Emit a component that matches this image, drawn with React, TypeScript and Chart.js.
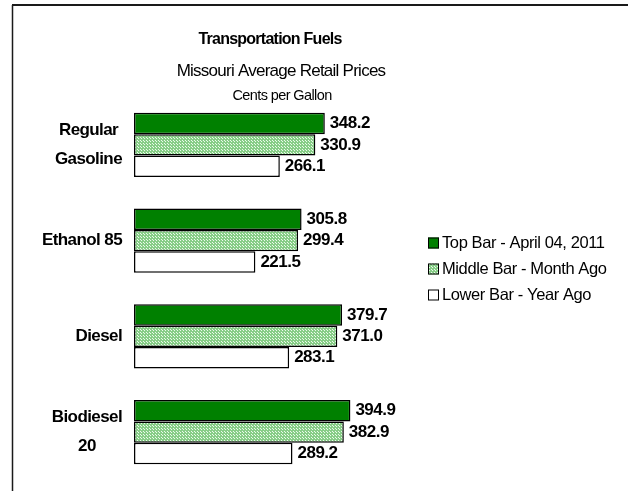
import React, { useEffect, useRef } from "react";
import { Chart, registerables } from "chart.js";

Chart.register(...registerables);

const categories: string[][] = [["Regular", "Gasoline"], ["Ethanol 85"], ["Diesel"], ["Biodiesel", "20"]];
const seriesNames = ["Top Bar - April 04, 2011", "Middle Bar - Month Ago", "Lower Bar - Year Ago"];
const topBar = [348.2, 305.8, 379.7, 394.9];
const middleBar = [330.9, 299.4, 371.0, 382.9];
const lowerBar = [266.1, 221.5, 283.1, 289.2];
const titleLines = ["Transportation Fuels", "Missouri Average Retail Prices", "Cents per Gallon"];

const FONT = "'Liberation Sans', Arial, sans-serif";

function makePattern(): CanvasPattern | string {
  const c = document.createElement("canvas");
  c.width = 3;
  c.height = 3;
  const g = c.getContext("2d");
  if (!g) return "#a8d8a8";
  g.fillStyle = "rgb(135,205,135)";
  g.fillRect(0, 0, 3, 3);
  g.fillStyle = "rgb(235,250,235)";
  g.fillRect(0, 0, 1, 1);
  g.fillRect(2, 2, 1, 1);
  const p = g.createPattern(c, "repeat");
  return p || "#a8d8a8";
}

function setSpacing(ctx: CanvasRenderingContext2D, px: number) {
  (ctx as any).letterSpacing = `${px}px`;
}

const decorPlugin = {
  id: "decor",
  beforeDraw(chart: any) {
    const ctx = chart.ctx as CanvasRenderingContext2D;
    ctx.save();
    ctx.fillStyle = "#ffffff";
    ctx.fillRect(0, 0, chart.width, chart.height);
    ctx.strokeStyle = "#1a1a1a";
    ctx.lineWidth = 2;
    ctx.beginPath();
    ctx.moveTo(12, 5);
    ctx.lineTo(chart.width, 5);
    ctx.stroke();
    ctx.lineWidth = 1.5;
    ctx.beginPath();
    ctx.moveTo(12.5, 5);
    ctx.lineTo(12.5, chart.height);
    ctx.stroke();
    ctx.restore();
  },
  afterDraw(chart: any) {
    const ctx = chart.ctx as CanvasRenderingContext2D;
    ctx.save();
    ctx.fillStyle = "#000";
    ctx.textBaseline = "middle";
    // titles
    ctx.textAlign = "center";
    ctx.font = `bold 16px ${FONT}`;
    setSpacing(ctx, -0.75);
    ctx.fillText(titleLines[0], 270, 40);
    ctx.font = `17px ${FONT}`;
    setSpacing(ctx, -0.75);
    ctx.fillText(titleLines[1], 281, 71);
    ctx.font = `14.5px ${FONT}`;
    setSpacing(ctx, -0.6);
    ctx.fillText(titleLines[2], 282, 96);

    // category labels
    const yScale = chart.scales.y;
    ctx.font = `bold 17px ${FONT}`;
    setSpacing(ctx, -0.6);
    const lineH = 29;
    categories.forEach((lines, i) => {
      const cy = yScale.getPixelForValue(i);
      const w = Math.max(...lines.map((l) => ctx.measureText(l).width));
      const right = 122;
      const cx = right - w / 2;
      const start = cy - ((lines.length - 1) * lineH) / 2;
      ctx.textAlign = "center";
      lines.forEach((l, k) => ctx.fillText(l, cx, start + k * lineH));
    });

    // value labels
    ctx.textAlign = "left";
    ctx.font = `bold 17px ${FONT}`;
    setSpacing(ctx, -0.5);
    chart.data.datasets.forEach((ds: any, di: number) => {
      const meta = chart.getDatasetMeta(di);
      meta.data.forEach((bar: any, j: number) => {
        const v = ds.data[j] as number;
        ctx.fillText(v.toFixed(1), bar.x + 5, bar.y);
      });
    });

    // legend
    ctx.font = `16.5px ${FONT}`;
    setSpacing(ctx, -0.4);
    const lx = 428;
    const ly0 = 243;
    const gap = 26;
    chart.data.datasets.forEach((ds: any, di: number) => {
      const y = ly0 + di * gap;
      ctx.fillStyle = ds.backgroundColor;
      ctx.fillRect(lx, y - 5.5, 11, 11);
      ctx.strokeStyle = "#000";
      ctx.lineWidth = 1;
      ctx.strokeRect(lx + 0.5, y - 5.5 + 0.5, 10, 10);
      ctx.fillStyle = "#000";
      ctx.fillText(ds.label, lx + 14, y);
    });
    ctx.restore();
  },
};

export default function App() {
  const ref = useRef<HTMLCanvasElement | null>(null);
  useEffect(() => {
    document.body.style.margin = "0";
    const canvas = ref.current;
    if (!canvas) return;
    const chart = new Chart(canvas, {
      type: "bar",
      data: {
        labels: categories,
        datasets: [
          { label: seriesNames[0], data: topBar, backgroundColor: "#008000", borderColor: "#000", borderWidth: 1.5, borderSkipped: false },
          { label: seriesNames[1], data: middleBar, backgroundColor: makePattern() as any, borderColor: "#000", borderWidth: 1.5, borderSkipped: false },
          { label: seriesNames[2], data: lowerBar, backgroundColor: "#ffffff", borderColor: "#000", borderWidth: 1.5, borderSkipped: false },
        ],
      },
      options: {
        indexAxis: "y",
        responsive: false,
        animation: false,
        layout: { padding: { left: 134, right: 220, top: 97, bottom: 11 } },
        datasets: { bar: { categoryPercentage: 0.67, barPercentage: 1 } },
        scales: {
          x: { display: false, min: 0, max: 500 },
          y: { display: false },
        },
        plugins: {
          legend: { display: false },
          title: { display: false },
          tooltip: { enabled: false },
        },
      },
      plugins: [decorPlugin],
    });
    return () => chart.destroy();
  }, []);
  return <canvas ref={ref} width={628} height={491} style={{ display: "block" }} />;
}
